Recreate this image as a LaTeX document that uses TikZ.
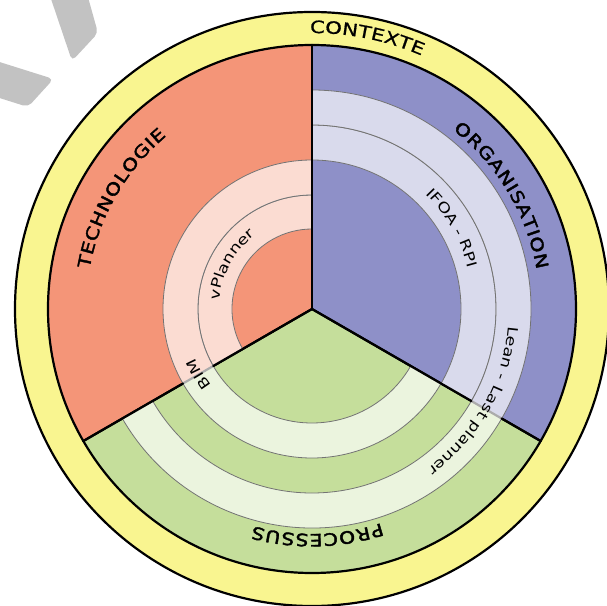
\documentclass[tikz,border=0pt]{standalone}
\usepackage{fontspec}
\usetikzlibrary{decorations.text}
\setmainfont{DejaVu Sans}
\newfontfamily\ctxfamily[FakeStretch=1.25, FakeBold=0.8]{DejaVu Sans}
\newfontfamily\secfamily[FakeStretch=1.2, FakeBold=2.2]{DejaVu Sans}
\newfontfamily\infamily[FakeStretch=1.25]{DejaVu Sans}
\newcommand\ctxfont{\ctxfamily\fontsize{17}{17}\selectfont}
\newcommand\secfont{\secfamily\fontsize{17}{17}\selectfont\kern0.8pt}
\newcommand\infont{\infamily\fontsize{14}{14}\selectfont}
\definecolor{ctxyellow}{HTML}{F9F590}
\definecolor{techsalmon}{HTML}{F49578}
\definecolor{orglav}{HTML}{8E90C8}
\definecolor{procgreen}{HTML}{C5DE9B}
\definecolor{logogray}{HTML}{C2C2C2}
\begin{document}
\begin{tikzpicture}[x=1pt,y=1pt,
  blackline/.style={line width=2.2pt, draw=black},
  band/.style={fill=white, fill opacity=0.67, draw=black!55, line width=0.8pt},
  radial/.style={line width=2.2pt, line cap=round},
  arclabel/.style={decorate, decoration={text along path, text align=center, text={#1}}}]
\clip (-312,-296) rectangle (295,309);
% grey logo fragments
\fill[logogray, rounded corners=5] (-264,319) -- (-226,319) -- (-214,276) -- (-240,248) -- cycle;
\fill[logogray, rounded corners=5] (-322,250) -- (-258.5,230) -- (-284,202) -- (-322,214) -- cycle;
% context ring
\coordinate (O) at (0,0);
\fill[ctxyellow] (O) circle[radius=297];
\draw[blackline] (O) circle[radius=297];
% sectors
\fill[techsalmon] (O) -- (90:264) arc[start angle=90,end angle=210,radius=264] -- cycle;
\fill[procgreen] (O) -- (210:264) arc[start angle=210,end angle=330,radius=264] -- cycle;
\fill[orglav] (O) -- (330:264) arc[start angle=330,end angle=450,radius=264] -- cycle;
\draw[blackline] (O) circle[radius=264];
\draw[radial] (O) -- (90:264);
\draw[radial] (O) -- (210:264);
\draw[radial] (O) -- (330:264);
% bands
\path[band] (90:114) arc[start angle=90,end angle=210,radius=114] -- (210:80) arc[start angle=210,end angle=90,radius=80] -- cycle;
\path[band] (90:149) arc[start angle=90,end angle=330,radius=149] -- (330:114) arc[start angle=330,end angle=90,radius=114] -- cycle;
\path[band] (-30:184) arc[start angle=-30,end angle=90,radius=184] -- (90:149) arc[start angle=90,end angle=-30,radius=149] -- cycle;
\path[band] (210:219) arc[start angle=210,end angle=450,radius=219] -- (90:184) arc[start angle=450,end angle=210,radius=184] -- cycle;
% black radial lines on top, except where a band passes over
\draw[radial] (O) -- (90:264);
\draw[radial] (O) -- (210:114) (210:149) -- (210:264);
\draw[radial] (O) -- (330:184) (330:219) -- (330:264);
% labels (clockwise, letters' tops outwards)
\path[arclabel={|\ctxfont|CONTEXTE}] (138.5:276) arc[start angle=138.5,end angle=18.5,radius=276];
\path[arclabel={|\secfont|TECHNOLOGIE}] (210:226) arc[start angle=210,end angle=90,radius=226];
\path[arclabel={|\secfont|ORGANISATION}] (91:228) arc[start angle=91,end angle=-29,radius=228];
\path[arclabel={|\secfont|PROCESSUS}] (331.5:225) arc[start angle=331.5,end angle=211.5,radius=225];
\path[arclabel={|\infont|vPlanner}] (211:93) arc[start angle=211,end angle=91,radius=93];
\path[arclabel={|\infont|IFOA - RPI}] (90:161.5) arc[start angle=90,end angle=-30,radius=161.5];
\path[arclabel={|\infont|BIM}] (270:126.5) arc[start angle=270,end angle=150,radius=126.5];
\path[arclabel={|\infont|Lean - Last planner}] (390.5:197) arc[start angle=390.5,end angle=270.5,radius=197];
\end{tikzpicture}
\end{document}
